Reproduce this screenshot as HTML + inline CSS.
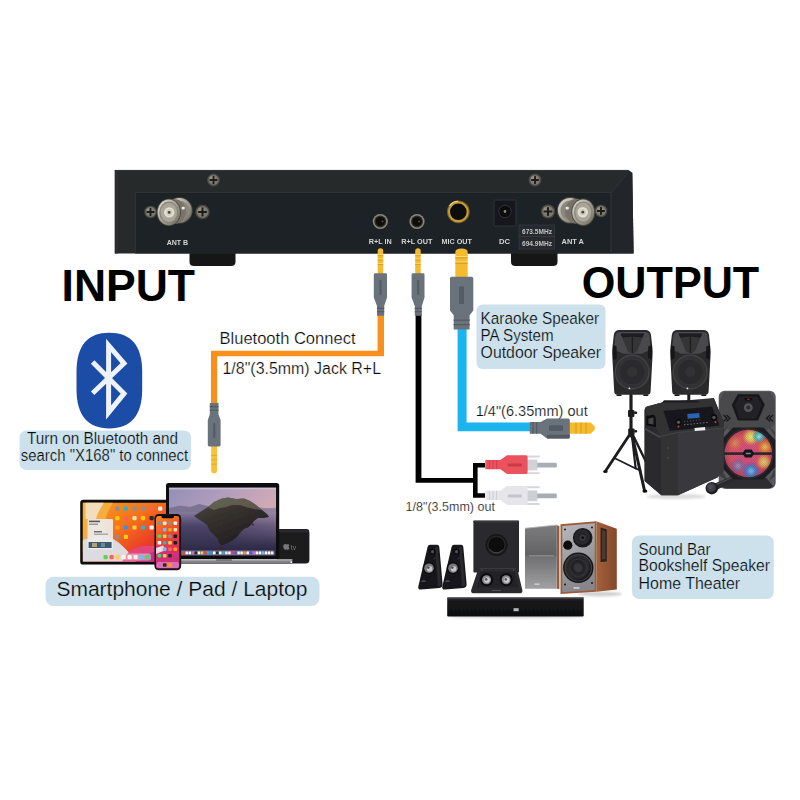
<!DOCTYPE html>
<html>
<head>
<meta charset="utf-8">
<title>Input / Output connection diagram</title>
<style>
html,body{margin:0;padding:0;background:#fff;}
body{width:800px;height:800px;overflow:hidden;}
svg{display:block;}
text{font-family:"Liberation Sans",sans-serif;}
</style>
</head>
<body>
<svg width="800" height="800" viewBox="0 0 800 800">
<defs>
  <linearGradient id="gNickel" x1="0" y1="0" x2="1" y2="1">
    <stop offset="0" stop-color="#e4e1d6"/><stop offset="0.5" stop-color="#a5a194"/><stop offset="1" stop-color="#6d695e"/>
  </linearGradient>
  <linearGradient id="gGoldV" x1="0" y1="0" x2="1" y2="0">
    <stop offset="0" stop-color="#f3b92d"/><stop offset="0.5" stop-color="#f7c544"/><stop offset="1" stop-color="#eaa91f"/>
  </linearGradient>
  <filter id="softR" x="-2%" y="-5%" width="104%" height="110%"><feGaussianBlur stdDeviation="0.45"/></filter>
  <filter id="softC" x="-2%" y="-2%" width="104%" height="104%"><feGaussianBlur stdDeviation="0.4"/></filter>
  <filter id="soft" x="-5%" y="-5%" width="110%" height="110%"><feGaussianBlur stdDeviation="0.5"/></filter>
  <filter id="soft1" x="-20%" y="-150%" width="140%" height="400%"><feGaussianBlur stdDeviation="1"/></filter>
</defs>
<rect width="800" height="800" fill="#ffffff"/>

<!-- ================= RECEIVER (rear panel) ================= -->
<g id="receiverAll" filter="url(#softR)">
<g id="receiver">
  <!-- feet -->
  <path d="M189.500 250 H235.500 V262 Q235.500 266 231 266 H194 Q189.500 266 189.500 262 Z" fill="#141619"/>
  <path d="M511 250 H557.500 V262 Q557.500 266 553 266 H515.500 Q511 266 511 262 Z" fill="#141619"/>
  <!-- body -->
  <path d="M114.800 170 H628.500 L632.300 172.800 L633.600 253.500 H114.800 Z" fill="#25292c"/>
  <path d="M114.800 170 H118 V253.500 H114.800 Z" fill="#2b2f33"/>
  <!-- recessed panel -->
  <path d="M135.500 192.500 H611 V253.500 H135.500 Z" fill="#1f2326"/>
  <path d="M135.500 253.500 V192.500 H611" fill="none" stroke="#2d3135" stroke-width="1"/>
  <!-- right side bevel -->
  <path d="M611 193 L628.500 172 L632.300 172.800 L633.600 253.500 H611 Z" fill="#22262a"/>
  <path d="M611 253.500 V193 L628.500 172" fill="none" stroke="#30343a" stroke-width="1"/>
  <path d="M114.800 170.400 H628.500" stroke="#34383c" stroke-width="0.800"/>
</g>

<!-- screws -->
<g id="screws">
  <g transform="translate(150.5 212)"><circle r="6.2" fill="#4f4c46"/><circle r="5" fill="#7d796f"/><circle cx="-1" cy="-1" r="3" fill="#928e82"/><path d="M-3.2 0H3.2M0 -3.2V3.2" stroke="#1c1c1a" stroke-width="1.9" stroke-linecap="round"/></g>
  <g transform="translate(202.5 212)"><circle r="7.2" fill="#4f4c46"/><circle r="5.8" fill="#7d796f"/><circle cx="-1" cy="-1" r="3.5" fill="#928e82"/><path d="M-3.6 0H3.6M0 -3.6V3.6" stroke="#1c1c1a" stroke-width="2.1" stroke-linecap="round"/></g>
  <g transform="translate(213.5 180)"><circle r="6.4" fill="#4c4a45"/><circle r="5" fill="#7b786e"/><circle cx="-1" cy="-1" r="3" fill="#96928a"/><path d="M-3.2 0H3.2M0 -3.2V3.2" stroke="#1c1c1a" stroke-width="1.9" stroke-linecap="round"/></g>
  <g transform="translate(535 180)"><circle r="6.4" fill="#4c4a45"/><circle r="5" fill="#7b786e"/><circle cx="-1" cy="-1" r="3" fill="#96928a"/><path d="M-3.2 0H3.2M0 -3.2V3.2" stroke="#1c1c1a" stroke-width="1.9" stroke-linecap="round"/></g>
  <g transform="translate(548 211.5)"><circle r="7" fill="#4f4c46"/><circle r="5.600" fill="#7d796f"/><circle cx="-1" cy="-1" r="3.400" fill="#928e82"/><path d="M-3.5 0H3.5M0 -3.5V3.5" stroke="#1c1c1a" stroke-width="2.1" stroke-linecap="round"/></g>
  <g transform="translate(601 211)"><circle r="6.2" fill="#4f4c46"/><circle r="5" fill="#7d796f"/><circle cx="-1" cy="-1" r="3" fill="#928e82"/><path d="M-3.2 0H3.2M0 -3.2V3.2" stroke="#1c1c1a" stroke-width="1.9" stroke-linecap="round"/></g>
</g>

<!-- BNC connector ANT B -->
<g id="antB">
  <circle cx="179.4" cy="210.4" r="13.200000000000001" fill="#4e4b44"/>
  <circle cx="179.4" cy="210.4" r="12.3" fill="url(#gNickel)"/>
  <circle cx="179.4" cy="210.4" r="9.700000000000001" fill="#8b877b"/>
  <ellipse cx="174.10000000000002" cy="211.4" rx="11.799999999999999" ry="12.4" fill="#77736a"/>
  <ellipse cx="168.8" cy="212.4" rx="12.1" ry="13.700000000000001" fill="#4a473f"/>
  <ellipse cx="168.8" cy="212.4" rx="11.2" ry="12.8" fill="url(#gNickel)"/>
  <ellipse cx="168.8" cy="212.4" rx="9.399999999999999" ry="10.8" fill="#88847a"/>
  <ellipse cx="168.8" cy="212.4" rx="8.2" ry="9.600000000000001" fill="#a9a598"/>
  <circle cx="169.2" cy="212.4" r="5.2" fill="#e3dfd3"/>
  <circle cx="169.2" cy="212.4" r="3.1" fill="#cfcabc"/>
  <circle cx="169.2" cy="212.4" r="1.400" fill="#4a463e"/>
  <rect x="181.6" y="206.8" width="3.2" height="2.8" rx="1" fill="#ece9e0"/>
</g>
<!-- BNC connector ANT A -->
<g id="antA">
  <circle cx="570.2" cy="210.3" r="13.200000000000001" fill="#4e4b44"/>
  <circle cx="570.2" cy="210.3" r="12.3" fill="url(#gNickel)"/>
  <circle cx="570.2" cy="210.3" r="9.700000000000001" fill="#8b877b"/>
  <ellipse cx="576.7" cy="211.25" rx="11.6" ry="12.4" fill="#77736a"/>
  <ellipse cx="583.2" cy="212.2" rx="11.9" ry="13.700000000000001" fill="#4a473f"/>
  <ellipse cx="583.2" cy="212.2" rx="11" ry="12.8" fill="url(#gNickel)"/>
  <ellipse cx="583.2" cy="212.2" rx="9.2" ry="10.8" fill="#88847a"/>
  <ellipse cx="583.2" cy="212.2" rx="8" ry="9.600000000000001" fill="#a9a598"/>
  <circle cx="582.8" cy="212.2" r="5.2" fill="#e3dfd3"/>
  <circle cx="582.8" cy="212.2" r="3.1" fill="#cfcabc"/>
  <circle cx="582.8" cy="212.2" r="1.400" fill="#4a463e"/>
  <rect x="565.6" y="206.70000000000002" width="3.2" height="2.8" rx="1" fill="#ece9e0"/>
</g>

<!-- jacks -->
<g id="jacks">
  <circle cx="380.3" cy="221.5" r="7.6" fill="#8a8678"/><circle cx="380.3" cy="221.5" r="5.9" fill="#2a2a28"/><circle cx="380.3" cy="221.5" r="4.6" fill="#0b0b0b"/><circle cx="382.5" cy="221.5" r="1" fill="#55524a"/>
  <circle cx="417" cy="221.5" r="7.6" fill="#8a8678"/><circle cx="417" cy="221.5" r="5.9" fill="#2a2a28"/><circle cx="417" cy="221.5" r="4.6" fill="#0b0b0b"/><circle cx="419" cy="221.5" r="1" fill="#55524a"/>
  <circle cx="458.3" cy="211.8" r="11.4" fill="#7a5a1e"/><circle cx="458.3" cy="211.8" r="10.4" fill="#c79a3c"/><circle cx="458.3" cy="211.8" r="8.3" fill="#0a0a0a"/>
  <path d="M449.5 206 A10.4 10.4 0 0 1 458.3 201.4" stroke="#f0d27a" stroke-width="1.3" fill="none"/>
  <!-- DC socket -->
  <rect x="494" y="200" width="22" height="26" rx="1.5" fill="#17191c" stroke="#30343a" stroke-width="1"/>
  <circle cx="505" cy="211.5" r="6.2" fill="#070708"/><circle cx="505" cy="211.5" r="6.2" fill="none" stroke="#3a3d42" stroke-width="0.8"/><circle cx="505" cy="211.5" r="1.4" fill="#8b8b88"/>
  <!-- frequency stickers -->
  <rect x="519" y="225" width="35.5" height="11.5" fill="#26292e" stroke="#3a3e44" stroke-width="0.7"/>
  <rect x="519" y="236.5" width="35.5" height="12.5" fill="#26292e" stroke="#3a3e44" stroke-width="0.7"/>
</g>
<g id="paneltext" font-weight="bold" fill="#d4d4d4" font-size="7.6">
  <text x="166.7" y="244.7" textLength="21.5" lengthAdjust="spacingAndGlyphs">ANT B</text>
  <text x="368.7" y="243.8" textLength="23" lengthAdjust="spacingAndGlyphs">R+L IN</text>
  <text x="401.2" y="243.8" textLength="31.2" lengthAdjust="spacingAndGlyphs">R+L OUT</text>
  <text x="441.5" y="243.8" textLength="30.4" lengthAdjust="spacingAndGlyphs">MIC OUT</text>
  <text x="499" y="244.3" textLength="11" lengthAdjust="spacingAndGlyphs">DC</text>
  <text x="561.5" y="244.3" textLength="22.5" lengthAdjust="spacingAndGlyphs">ANT A</text>
  <text x="522" y="233.8" font-size="6.6" textLength="30" lengthAdjust="spacingAndGlyphs" fill="#c2c2c2">673.5MHz</text>
  <text x="522" y="246" font-size="6.6" textLength="30" lengthAdjust="spacingAndGlyphs" fill="#c2c2c2">694.9MHz</text>
</g>
</g>

<!-- ================= HEADINGS ================= -->
<text x="61.6" y="301" font-size="45" font-weight="bold" fill="#000" textLength="133.4" lengthAdjust="spacingAndGlyphs">INPUT</text>
<text x="581.8" y="298.4" font-size="43.6" font-weight="bold" fill="#000" textLength="177.4" lengthAdjust="spacingAndGlyphs">OUTPUT</text>

<!-- ================= CABLES ================= -->
<g id="cablesAll" filter="url(#softC)">
<g id="cables">
  <!-- orange aux cable -->
  <path d="M377.6 314 H384 V356.2 H217.2 V405 H211 V350.8 H377.6 Z" fill="#f7901e"/>
  <!-- black cable + splitter -->
  <path d="M415.6 314 H421.4 V478 H473 V463 H485 V467.4 H477.6 V493.2 H485 V497.8 H473 V482.8 H415.6 Z" fill="#060606"/>
  <!-- blue cable -->
  <path d="M457.6 328 H466.6 V422.6 H531 V431.2 H457.6 Z" fill="#1cb4ee"/>
</g>

<!-- 3.5mm plug into R+L IN -->
<g id="plug1">
  <path d="M377.7 251 Q377.7 248.2 380.45 248.2 Q383.2 248.2 383.2 251 V274 H377.7 Z" fill="#f4bb2e"/>
  <path d="M377.7 254.6H383.2M377.7 259H383.2M377.7 263.4H383.2" stroke="#fbe08a" stroke-width="0.9"/>
  <path d="M377.7 255.6H383.2M377.7 260H383.2M377.7 264.4H383.2" stroke="#d9961a" stroke-width="0.8"/>
  <path d="M373.8 274.6 Q373.8 273.3 375.1 273.3 H385.7 Q387 273.3 387 274.6 V297.5 L384.2 306 V315.8 H377 V306 L373.8 297.5 Z" fill="#6a737b"/>
  <path d="M376.9 308.4H384.3M376.9 311.8H384.3" stroke="#525a62" stroke-width="1.1"/>
  <rect x="379.4" y="280" width="2.2" height="15" rx="1" fill="#535b63"/>
</g>
<!-- 3.5mm plug into R+L OUT -->
<g id="plug2">
  <path d="M415.2 251 Q415.2 248.2 417.95 248.2 Q420.7 248.2 420.7 251 V274 H415.2 Z" fill="#f4bb2e"/>
  <path d="M415.2 254.6H420.7M415.2 259H420.7M415.2 263.4H420.7" stroke="#fbe08a" stroke-width="0.9"/>
  <path d="M415.2 255.6H420.7M415.2 260H420.7M415.2 264.4H420.7" stroke="#d9961a" stroke-width="0.8"/>
  <path d="M411.6 274.6 Q411.6 273.3 412.9 273.3 H423.2 Q424.5 273.3 424.5 274.6 V297.5 L421.8 306 V315.8 H414.8 V306 L411.6 297.5 Z" fill="#6a737b"/>
  <path d="M414.7 308.4H421.9M414.7 311.8H421.9" stroke="#525a62" stroke-width="1.1"/>
  <rect x="417" y="280" width="2.2" height="15" rx="1" fill="#535b63"/>
</g>
<!-- 6.35mm plug into MIC OUT -->
<g id="plug3">
  <path d="M455.3 252 Q455.3 248.4 461.5 248.4 Q467.7 248.4 467.7 252 V278 H455.3 Z" fill="#f4bb2e"/>
  <path d="M455.3 256.6H467.7M455.3 262H467.7" stroke="#fbe08a" stroke-width="1"/>
  <path d="M455.3 257.8H467.7M455.3 263.2H467.7" stroke="#d9961a" stroke-width="1"/>
  <path d="M450 278.4 Q450 276.8 451.6 276.8 H471.7 Q473.3 276.8 473.3 278.4 V310.5 L469.6 315.2 V329.4 H453.7 V315.2 L450 310.5 Z" fill="#6a737b"/>
  <path d="M453.6 320.2H469.7M453.6 324.6H469.7" stroke="#525a62" stroke-width="1.3"/>
  <rect x="459" y="286.5" width="5" height="17.5" rx="0.8" fill="#535b63"/>
</g>

<!-- 3.5mm plug (phone end of orange cable) -->
<g id="plug4">
  <path d="M211.2 446 H217.1 V470.4 Q217.1 473.2 214.15 473.2 Q211.2 473.2 211.2 470.4 Z" fill="#f6c23c"/>
  <path d="M211.2 455.4H217.1M211.2 459.8H217.1M211.2 464.2H217.1" stroke="#e3a526" stroke-width="0.9"/>
  <path d="M209.8 403 H218.5 V414.4 L220.6 420 V445 Q220.6 446.4 219.2 446.4 H209.2 Q207.8 446.4 207.8 445 V420 L209.8 414.4 Z" fill="#6a737b"/>
  <path d="M209.8 406.6H218.5M209.8 410.2H218.5" stroke="#525a62" stroke-width="1.1"/>
  <rect x="213.1" y="423" width="2.2" height="15" rx="1" fill="#535b63"/>
</g>
<!-- 6.35mm plug (speaker end of blue cable) -->
<g id="plug5">
  <path d="M569 422.6 H590.5 L594.8 426.6 V429.8 L590.5 433.8 H569 Z" fill="#f4bb2e"/>
  <path d="M576 422.6V433.8M581 422.6V433.8M586 422.6V433.8" stroke="#d9961a" stroke-width="0.9"/>
  <path d="M529.8 422 H540.6 L547 418.4 H568.3 Q569.8 418.4 569.8 419.9 V436.9 Q569.8 438.4 568.3 438.4 H547 L540.6 433.8 H529.8 Z" fill="#6a737b"/>
  <path d="M547 434.8 H569.8 V436.9 Q569.8 438.4 568.3 438.4 H547 Z" fill="#525a62"/>
  <path d="M533 422V433.8M536.6 422V433.8" stroke="#525a62" stroke-width="1.1"/>
  <rect x="549" y="425.3" width="14" height="5.8" rx="0.8" fill="#535b63"/>
</g>
<!-- RCA red -->
<g id="rcaRed">
  <path d="M537 462.8 H555.6 Q556.8 462.8 556.8 464 V466.3 Q556.8 467.5 555.6 467.5 H537 Z" fill="#a9adb6"/>
  <path d="M527 455.4 H539.7 V457.4 H527 Z M527 472.2 H539.7 V474.1 H527 Z" fill="#d6d7dc"/>
  <rect x="527" y="459.6" width="10.3" height="10.8" fill="#d2d3d8"/>
  <path d="M485.3 460 H500.3 L507 455.3 H526 Q527.6 455.3 527.6 456.9 V472.5 Q527.6 474.1 526 474.1 H507 L500.3 469.2 H485.3 Z" fill="#ea525d"/>
  <path d="M489.4 460V469.2M493 460V469.2M496.6 460V469.2" stroke="#d3414d" stroke-width="1"/>
  <rect x="507.8" y="463.6" width="14.2" height="3" rx="0.6" fill="#c93a47"/>
</g>
<!-- RCA white -->
<g id="rcaWhite" transform="translate(0 30.8)">
  <path d="M537 462.8 H555.6 Q556.8 462.8 556.8 464 V466.3 Q556.8 467.5 555.6 467.5 H537 Z" fill="#a9adb6"/>
  <path d="M527 455.4 H539.7 V457.4 H527 Z M527 472.2 H539.7 V474.1 H527 Z" fill="#d6d7dc"/>
  <rect x="527" y="459.6" width="10.3" height="10.8" fill="#cfd0d6"/>
  <path d="M485.3 460 H500.3 L507 455.3 H526 Q527.6 455.3 527.6 456.9 V472.5 Q527.6 474.1 526 474.1 H507 L500.3 469.2 H485.3 Z" fill="#e6e6ea"/>
  <path d="M489.4 460V469.2M493 460V469.2M496.6 460V469.2" stroke="#cdced4" stroke-width="1"/>
  <rect x="507.8" y="463.6" width="14.2" height="3" rx="0.6" fill="#c4c5cc"/>
</g>
</g>

<!-- ================= SMARTPHONE / PAD / LAPTOP ================= -->
<defs>
  <linearGradient id="gSky" x1="0" y1="0" x2="1" y2="0.25">
    <stop offset="0" stop-color="#948fb6"/><stop offset="0.5" stop-color="#b09cbc"/><stop offset="1" stop-color="#cfa9b6"/>
  </linearGradient>
  <linearGradient id="gSea" x1="0" y1="0" x2="0" y2="1">
    <stop offset="0" stop-color="#857a9c"/><stop offset="0.3" stop-color="#4c4569"/><stop offset="1" stop-color="#27243f"/>
  </linearGradient>
  <linearGradient id="gIsle" x1="0" y1="0" x2="0.6" y2="1">
    <stop offset="0" stop-color="#4e4c42"/><stop offset="0.45" stop-color="#35312d"/><stop offset="1" stop-color="#221e22"/>
  </linearGradient>
  <linearGradient id="gPad" x1="0" y1="0" x2="1" y2="1">
    <stop offset="0" stop-color="#f9a425"/><stop offset="0.45" stop-color="#f46f1b"/><stop offset="0.75" stop-color="#e93a28"/><stop offset="1" stop-color="#e1322c"/>
  </linearGradient>
  <linearGradient id="gPhone" x1="0" y1="0" x2="0.3" y2="1">
    <stop offset="0" stop-color="#f58a22"/><stop offset="0.45" stop-color="#ee4a26"/><stop offset="0.75" stop-color="#e0305a"/><stop offset="1" stop-color="#b8288a"/>
  </linearGradient>
  <linearGradient id="gBase" x1="0" y1="0" x2="0" y2="1">
    <stop offset="0" stop-color="#d4d4d8"/><stop offset="0.35" stop-color="#8d8d92"/><stop offset="1" stop-color="#6a6a70"/>
  </linearGradient>
  <linearGradient id="gSeaR" x1="0" y1="0" x2="1" y2="0"><stop offset="0.35" stop-color="#a58aa6" stop-opacity="0"/><stop offset="1" stop-color="#a58aa6" stop-opacity="0.6"/></linearGradient>
  <linearGradient id="gSeaR2" x1="0" y1="0" x2="0" y2="1"><stop offset="0" stop-color="#fff" stop-opacity="1"/><stop offset="1" stop-color="#fff" stop-opacity="0"/></linearGradient>
  <mask id="mSeaR"><rect x="169" y="512" width="107.2" height="34" fill="url(#gSeaR2)"/></mask>
  <clipPath id="cpMac"><rect x="169" y="487.4" width="107.2" height="68.8"/></clipPath>
  <clipPath id="cpPad"><rect x="82.6" y="502.6" width="84" height="59.2"/></clipPath>
  <clipPath id="cpPhone"><rect x="156" y="516" width="23.5" height="52.6" rx="2.6"/></clipPath>
</defs>
<g id="devices" filter="url(#soft)">
  <!-- Apple TV -->
  <rect x="277" y="529" width="32.4" height="34.4" rx="3.4" fill="#1c1c1e"/>
  <rect x="277" y="529.6" width="32" height="3" rx="1.5" fill="#2c2c2f"/>
  <path d="M290.8 545.2c-.9 0-1.5.6-2.1.6s-1.200-.6-2.100-.5c-1.100.1-2 .8-2.400 1.900-.6 1.700.2 3.800 1.200 4.800.5.500 1 .9 1.600.9s.9-.4 1.700-.4 1.100.4 1.700.4 1.100-.5 1.500-1c.5-.7.7-1.300.7-1.400-1.400-.600-1.600-2.600-.2-3.400-.5-.7-1.200-1.900-1.600-1.900z" fill="#77777c" transform="translate(73 140.600) scale(0.74)"/>
  <text x="290.800" y="549.600" font-size="6.800" fill="#77777c">tv</text>

  <!-- iPad -->
  <rect x="80.2" y="499.8" width="89" height="64.8" rx="3.2" fill="#0d0d0f"/>
  <g clip-path="url(#cpPad)">
    <rect x="82.6" y="502.6" width="84" height="59.2" fill="url(#gPad)"/>
    <path d="M82.600 502.600 H113 C107 512 103 522 106 534 L118 550 L82.600 552 Z" fill="#f6b544" opacity="0.800"/>
    <path d="M85.500 502.600 H104 C100 509 97 514 96 519 H85.500 Z" fill="#f1e6d4" opacity="0.850"/>
    <path d="M82.6 540 L104 534 C118 540 128 550 136 561.8 H82.6 Z" fill="#dcdce0"/>
    <path d="M122 561.8 C128 548 142 542 160 548 L166.6 561.8 Z" fill="#e2447e"/>
    <path d="M140 561.8 C146 552 156 550 166.6 553 V561.8 Z" fill="#c22f92"/>
    <rect x="87.5" y="519" width="25.5" height="30.4" rx="1.4" fill="#ecebea" opacity="0.93"/>
    <rect x="89" y="520.6" width="11" height="1.6" fill="#55555a"/><rect x="89" y="523.6" width="9" height="1.2" fill="#85858a"/>
    <rect x="94" y="531" width="8" height="1.4" fill="#6a6a70"/><rect x="94" y="533.6" width="14" height="1.2" fill="#9a9aa0"/>
    <rect x="88.6" y="542" width="23" height="6" fill="#3d5a73"/><rect x="92" y="543" width="5" height="4" fill="#b8a070"/><rect x="101" y="543" width="4" height="4" fill="#708890"/>
    <rect x="101" y="553.4" width="50" height="7" rx="2" fill="#f3d2cf" opacity="0.55"/>
    <rect x="115.3" y="506.6" width="4.2" height="4.2" rx="1.1" fill="#8e8e93"/><rect x="123.8" y="506.6" width="4.2" height="4.2" rx="1.1" fill="#30b0c7"/><rect x="132.4" y="506.6" width="4.2" height="4.2" rx="1.1" fill="#8e8e93"/><rect x="140.9" y="506.6" width="4.2" height="4.2" rx="1.1" fill="#8e8e93"/><rect x="149.5" y="506.6" width="4.2" height="4.2" rx="1.1" fill="#ff5e57"/><rect x="158.1" y="506.6" width="4.2" height="4.2" rx="1.1" fill="#f0f0f0"/><rect x="115.3" y="516.0" width="4.2" height="4.2" rx="1.1" fill="#ffcc00"/><rect x="123.8" y="516.0" width="4.2" height="4.2" rx="1.1" fill="#ff5e57"/><rect x="132.4" y="516.0" width="4.2" height="4.2" rx="1.1" fill="#ffe9a8"/><rect x="140.9" y="516.0" width="4.2" height="4.2" rx="1.1" fill="#ffcc00"/><rect x="149.5" y="516.0" width="4.2" height="4.2" rx="1.1" fill="#2c2c2e"/><rect x="158.1" y="516.0" width="4.2" height="4.2" rx="1.1" fill="#8e8e93"/><rect x="115.3" y="525.4" width="4.2" height="4.2" rx="1.1" fill="#ff9f0a"/><rect x="123.8" y="525.4" width="4.2" height="4.2" rx="1.1" fill="#3a8df0"/><rect x="132.4" y="525.4" width="4.2" height="4.2" rx="1.1" fill="#f7d04a"/><rect x="140.9" y="525.4" width="4.2" height="4.2" rx="1.1" fill="#30b0c7"/><rect x="149.5" y="525.4" width="4.2" height="4.2" rx="1.1" fill="#f5f5f0"/><rect x="158.1" y="525.4" width="4.2" height="4.2" rx="1.1" fill="#c86dd7"/><rect x="115.3" y="534.8" width="4.2" height="4.2" rx="1.1" fill="#8e8e93"/><rect x="123.8" y="534.8" width="4.2" height="4.2" rx="1.1" fill="#ffcc00"/>
    <rect x="103.5" y="555" width="4.2" height="4.2" rx="1" fill="#4cd964"/><rect x="109.5" y="555" width="4.2" height="4.2" rx="1" fill="#ff5e57"/><rect x="115.5" y="555" width="4.2" height="4.2" rx="1" fill="#f7d04a"/><rect x="121.5" y="555" width="4.2" height="4.2" rx="1" fill="#f5f5f0"/><rect x="127.5" y="555" width="4.2" height="4.2" rx="1" fill="#f5f5f0"/><rect x="133.5" y="555" width="4.2" height="4.2" rx="1" fill="#f0f0f0"/><rect x="139.5" y="555" width="4.2" height="4.2" rx="1" fill="#5ac8fa"/><rect x="145.5" y="555" width="4.2" height="4.2" rx="1" fill="#4cd964"/>
  </g>

  <!-- MacBook -->
  <rect x="166" y="483" width="113.2" height="76.6" rx="2.6" fill="#0c0c0e"/>
  <g clip-path="url(#cpMac)">
    <rect x="169" y="487.4" width="107.2" height="30" fill="url(#gSky)"/>
    <path d="M169 508 L180 505.5 L190 507 L199 504 L210 506.5 L222 505 L235 507 L276.2 509 V517 H169 Z" fill="#7d7393"/>
    <rect x="169" y="512" width="107.2" height="44.2" fill="url(#gSea)"/>
    <rect x="169" y="512" width="107.2" height="34" fill="url(#gSeaR)" mask="url(#mSeaR)"/>
    <path d="M236 509 L252 506 L266 508.5 L276.2 507.5 V514 L236 513 Z" fill="#94839f" opacity="0.8"/>
    <path d="M194.0 516.0 L200.0 512.0 L208.0 507.0 L214.0 502.0 L222.0 498.6 L228.0 497.4 L236.0 499.0 L244.0 498.6 L250.0 501.0 L256.0 505.0 L262.0 510.0 L267.0 514.0 L269.0 517.0 L264.0 518.0 L258.0 518.0 L254.0 521.0 L251.0 525.0 L248.0 527.4 L244.0 529.0 L240.0 533.0 L237.0 537.0 L232.0 541.0 L226.0 544.0 L221.0 545.4 L219.0 543.0 L218.0 539.0 L214.0 535.0 L210.0 531.0 L207.0 525.0 L203.0 522.0 L198.0 519.0 Z" fill="url(#gIsle)"/>
    <path d="M208.0 507.0 L214.0 502.0 L222.0 498.6 L228.0 497.4 L236.0 499.0 L244.0 498.6 L250.0 501.0 L256.0 505.0 L262.0 510.0 L254.0 509.0 L246.0 507.0 L240.0 505.0 L232.0 505.0 L226.0 507.0 L220.0 508.0 L214.0 510.0 Z" fill="#727060" opacity="0.650"/>
    <path d="M221 545.4 L224 547.6 L222.600 550 L219.800 548 Z M252 523 L254.400 524.200 L252.600 526.200 Z" fill="#322c2e"/>
    <rect x="169" y="487.4" width="107.2" height="2" fill="#cfc6d6" opacity="0.85"/>
    <rect x="180.5" y="550.6" width="94" height="4.6" rx="1.2" fill="#c8c2d2" opacity="0.5"/>
    <rect x="182.50" y="551.6" width="2.4" height="2.6" rx="0.5" fill="#ff3b30"/><rect x="185.55" y="551.6" width="2.4" height="2.6" rx="0.5" fill="#fefefe"/><rect x="188.60" y="551.6" width="2.4" height="2.6" rx="0.5" fill="#fdfdfd"/><rect x="191.65" y="551.6" width="2.4" height="2.6" rx="0.5" fill="#c86dd7"/><rect x="194.70" y="551.6" width="2.4" height="2.6" rx="0.5" fill="#222222"/><rect x="197.75" y="551.6" width="2.4" height="2.6" rx="0.5" fill="#ffffff"/><rect x="200.80" y="551.6" width="2.4" height="2.6" rx="0.5" fill="#f7d04a"/><rect x="203.85" y="551.6" width="2.4" height="2.6" rx="0.5" fill="#ff3b30"/><rect x="206.90" y="551.6" width="2.4" height="2.6" rx="0.5" fill="#34aadc"/><rect x="209.95" y="551.6" width="2.4" height="2.6" rx="0.5" fill="#3a8df0"/><rect x="213.00" y="551.6" width="2.4" height="2.6" rx="0.5" fill="#fdfdfd"/><rect x="216.05" y="551.6" width="2.4" height="2.6" rx="0.5" fill="#2c2c2e"/><rect x="219.10" y="551.6" width="2.4" height="2.6" rx="0.5" fill="#fefefe"/><rect x="222.15" y="551.6" width="2.4" height="2.6" rx="0.5" fill="#34aadc"/><rect x="225.20" y="551.6" width="2.4" height="2.6" rx="0.5" fill="#f5f5f0"/><rect x="228.25" y="551.6" width="2.4" height="2.6" rx="0.5" fill="#ffffff"/><rect x="231.30" y="551.6" width="2.4" height="2.6" rx="0.5" fill="#ff2d55"/><rect x="234.35" y="551.6" width="2.4" height="2.6" rx="0.5" fill="#5856d6"/><rect x="237.40" y="551.6" width="2.4" height="2.6" rx="0.5" fill="#fdfdfd"/><rect x="240.45" y="551.6" width="2.4" height="2.6" rx="0.5" fill="#fdfdfd"/><rect x="243.50" y="551.6" width="2.4" height="2.6" rx="0.5" fill="#ff9f0a"/><rect x="246.55" y="551.6" width="2.4" height="2.6" rx="0.5" fill="#fefefe"/><rect x="249.60" y="551.6" width="2.4" height="2.6" rx="0.5" fill="#5856d6"/><rect x="252.65" y="551.6" width="2.4" height="2.6" rx="0.5" fill="#c86dd7"/><rect x="255.70" y="551.6" width="2.4" height="2.6" rx="0.5" fill="#ffffff"/><rect x="258.75" y="551.6" width="2.4" height="2.6" rx="0.5" fill="#ffffff"/><rect x="261.80" y="551.6" width="2.4" height="2.6" rx="0.5" fill="#5ac8fa"/><rect x="264.85" y="551.6" width="2.4" height="2.6" rx="0.5" fill="#fefefe"/><rect x="267.90" y="551.6" width="2.4" height="2.6" rx="0.5" fill="#ffffff"/><rect x="270.95" y="551.6" width="2.4" height="2.6" rx="0.5" fill="#f5f5f0"/>
  </g>
  <path d="M174 559.2 H292.4 V561.4 Q292.4 564 289 564 H177 Q174 564 174 561.4 Z" fill="url(#gBase)"/>
  <rect x="216" y="559.2" width="16" height="1.5" rx="0.7" fill="#6c6c72"/>
  <circle cx="291.3" cy="562.2" r="0.9" fill="#f2f2f2"/>

  <!-- iPhone -->
  <rect x="154.4" y="514" width="26.8" height="56.2" rx="4.2" fill="#2a2426"/>
  <rect x="154.9" y="514.5" width="25.8" height="55.2" rx="3.8" fill="#0c0c0e"/>
  <g clip-path="url(#cpPhone)">
    <rect x="156" y="516" width="23.5" height="52.6" fill="url(#gPhone)"/>
    <path d="M156 546 C162 544 168 548 171 554 L179.500 551 V568.6 H156 Z" fill="#d42f78" opacity="0.9"/>
    <path d="M156 548 L163 545.5 L166 550 L156 554 Z" fill="#f0e6ea" opacity="0.9"/>
    <rect x="156.6" y="562" width="22.3" height="6" rx="2" fill="#f0c8d8" opacity="0.45"/>
    <rect x="157.6" y="521.4" width="3.6" height="3.6" rx="0.9" fill="#8e8e93"/><rect x="162.9" y="521.4" width="3.6" height="3.6" rx="0.9" fill="#e8e8e8"/><rect x="168.2" y="521.4" width="3.6" height="3.6" rx="0.9" fill="#8e8e93"/><rect x="173.5" y="521.4" width="3.6" height="3.6" rx="0.9" fill="#f0f0f0"/><rect x="157.6" y="527.9" width="3.6" height="3.6" rx="0.9" fill="#ff5e57"/><rect x="162.9" y="527.9" width="3.6" height="3.6" rx="0.9" fill="#5ac8fa"/><rect x="168.2" y="527.9" width="3.6" height="3.6" rx="0.9" fill="#ff9f0a"/><rect x="173.5" y="527.9" width="3.6" height="3.6" rx="0.9" fill="#ffe9a8"/><rect x="157.6" y="534.4" width="3.6" height="3.6" rx="0.9" fill="#4cd964"/><rect x="162.9" y="534.4" width="3.6" height="3.6" rx="0.9" fill="#f7d04a"/><rect x="168.2" y="534.4" width="3.6" height="3.6" rx="0.9" fill="#8e8e93"/><rect x="173.5" y="534.4" width="3.6" height="3.6" rx="0.9" fill="#1e1e20"/><rect x="157.6" y="540.9" width="3.6" height="3.6" rx="0.9" fill="#fefefe"/><rect x="162.9" y="540.9" width="3.6" height="3.6" rx="0.9" fill="#30b0c7"/><rect x="168.2" y="540.9" width="3.6" height="3.6" rx="0.9" fill="#f7d04a"/><rect x="173.5" y="540.9" width="3.6" height="3.6" rx="0.9" fill="#1e1e20"/><rect x="157.6" y="547.4" width="3.6" height="3.6" rx="0.9" fill="#e8e8e8"/><rect x="162.9" y="547.4" width="3.6" height="3.6" rx="0.9" fill="#5ac8fa"/><rect x="168.2" y="547.4" width="3.6" height="3.6" rx="0.9" fill="#ff5e57"/><rect x="173.5" y="547.4" width="3.6" height="3.6" rx="0.9" fill="#ff9f0a"/><rect x="157.6" y="553.9" width="3.6" height="3.6" rx="0.9" fill="#4cd964"/><rect x="162.9" y="553.9" width="3.6" height="3.6" rx="0.9" fill="#f7d04a"/><rect x="168.2" y="553.9" width="3.6" height="3.6" rx="0.9" fill="#2c2c2e"/>
    <rect x="157.6" y="563.2" width="3.6" height="3.6" rx="0.9" fill="#c86dd7"/><rect x="162.9" y="563.2" width="3.6" height="3.6" rx="0.9" fill="#2c2c2e"/><rect x="168.2" y="563.2" width="3.6" height="3.6" rx="0.9" fill="#ff9f0a"/><rect x="173.5" y="563.2" width="3.6" height="3.6" rx="0.9" fill="#c86dd7"/>
  </g>
  <path d="M161.5 515.4 H174 V516.6 Q174 518.2 172.4 518.2 H163.100 Q161.500 518.200 161.500 516.600 Z" fill="#0c0c0e"/>
</g>

<!-- ================= PA / KARAOKE SPEAKERS ================= -->
<defs>
  <radialGradient id="gLed" cx="0.5" cy="0.5" r="0.5">
    <stop offset="0" stop-color="#e2508e"/><stop offset="0.7" stop-color="#ee5a72"/><stop offset="1" stop-color="#c8425e"/>
  </radialGradient>
  <radialGradient id="gSpotY" cx="0.5" cy="0.5" r="0.5"><stop offset="0" stop-color="#fff7a0"/><stop offset="0.5" stop-color="#f3d650" stop-opacity="0.9"/><stop offset="1" stop-color="#f0a040" stop-opacity="0"/></radialGradient>
  <radialGradient id="gSpotB" cx="0.5" cy="0.5" r="0.5"><stop offset="0" stop-color="#8fd0ff"/><stop offset="0.5" stop-color="#3a8be0" stop-opacity="0.9"/><stop offset="1" stop-color="#5a50c0" stop-opacity="0"/></radialGradient>
  <radialGradient id="gSpotC" cx="0.5" cy="0.5" r="0.5"><stop offset="0" stop-color="#b8ffe8"/><stop offset="0.5" stop-color="#40c8d0" stop-opacity="0.9"/><stop offset="1" stop-color="#40a0c0" stop-opacity="0"/></radialGradient>
  <radialGradient id="gSpotO" cx="0.5" cy="0.5" r="0.5"><stop offset="0" stop-color="#ffd070"/><stop offset="0.5" stop-color="#f08a3a" stop-opacity="0.9"/><stop offset="1" stop-color="#e86040" stop-opacity="0"/></radialGradient>
  <pattern id="pMesh" width="1.6" height="1.6" patternUnits="userSpaceOnUse" patternTransform="rotate(45)"><rect width="1.6" height="1.6" fill="none"/><path d="M0 0H1.6M0 0V1.6" stroke="#2a2228" stroke-width="0.45" opacity="0.55"/></pattern>
  <linearGradient id="gRockF" x1="0" y1="0" x2="1" y2="1"><stop offset="0" stop-color="#3c3c3f"/><stop offset="1" stop-color="#2b2b2e"/></linearGradient>
  <clipPath id="cpLed"><circle cx="748.3" cy="453.5" r="24.6"/></clipPath>
</defs>
<g id="paSystem" filter="url(#soft)">
  <!-- tripod stand -->
  <g stroke="#1b1b1d" stroke-linecap="round" fill="none">
    <path d="M631 395 V436" stroke-width="3.2"/>
    <path d="M631.4 432 L605.2 471.6" stroke-width="2.8"/>
    <path d="M631.4 432 L644.6 491" stroke-width="3"/>
    <path d="M631.4 432 L650 470" stroke-width="2.4"/>
    <path d="M632 436 L635.6 468" stroke-width="2.2"/>
    <path d="M614.8 458.2 L635.6 468.4" stroke-width="1.7"/>
    <path d="M635.6 468.4 L640.4 470.4" stroke-width="1.7"/>
  </g>
  <rect x="628" y="410" width="6.4" height="7" rx="1" fill="#1b1b1d"/><rect x="634" y="411.5" width="3.2" height="2.6" rx="1" fill="#1b1b1d"/>
  <rect x="628.2" y="428.5" width="6.4" height="6.5" rx="1" fill="#1b1b1d"/><rect x="634.2" y="430" width="3" height="2.4" rx="1" fill="#1b1b1d"/>
  <rect x="603.2" y="470.4" width="4.4" height="2.4" rx="1" fill="#111"/><rect x="642.6" y="489.800" width="4.6" height="2.6" rx="1" fill="#111"/>
  <!-- second pole -->
  <path d="M688.800 394 V402" stroke="#1b1b1d" stroke-width="3"/>

  <g>
    <path d="M619.5 330 H645.3 Q650.2 330 651.0 335 L652.5 349 Q652.8 352 652.5 356 L650.6 391.500 Q650.4 394.800 647.2 394.800 H617.6 Q614.4 394.800 614.2 391.500 L612.3 356 Q612.0 352 612.3 349 L613.8 335 Q614.6 330 619.5 330 Z" fill="#29292b"/>
    <path d="M619.8 332 H645.0 Q648.8 332 649.4 335.600 L650.8 349.500 L641.5 353.800 H623.3 L614.0 349.500 L615.4 335.600 Q616.0 332 619.8 332 Z" fill="#4a4a4e"/>
    <path d="M620.5 333.400 H644.3 L637.0 351.500 Q632.4 354.500 627.8 351.500 Z" fill="#343437"/>
    <path d="M620.5 333.400 H644.3 L642.6 337.500 Q632.4 335.800 622.2 337.500 Z" fill="#1e1e20"/>
    <path d="M632.4 336.500 V353" stroke="#1c1c1e" stroke-width="1.200"/>
    <path d="M613.0 345 L616.6 346.500 V358 L613.0 360 Z" fill="#161618"/>
    <path d="M651.8 345 L648.2 346.500 V358 L651.8 360 Z" fill="#161618"/>
    <circle cx="632.2" cy="372" r="18.200" fill="#303033"/>
    <circle cx="632.2" cy="372" r="16.800" fill="none" stroke="#414145" stroke-width="1.400"/>
    <circle cx="632.2" cy="372" r="12" fill="#2b2b2e"/>
    <circle cx="632.2" cy="372" r="5" fill="#323236"/>
    <circle cx="629.4" cy="388.400" r="0.900" fill="#e8e8e8"/>
    <rect x="616.5" y="394.400" width="5" height="1.600" rx="0.600" fill="#19191b"/>
    <rect x="643.3" y="394.400" width="5" height="1.600" rx="0.600" fill="#19191b"/>
  </g>
  <g>
    <path d="M677.5 330 H703.3 Q708.2 330 709.0 335 L710.5 349 Q710.8 352 710.5 356 L708.6 391.500 Q708.4 394.800 705.2 394.800 H675.6 Q672.4 394.800 672.2 391.500 L670.3 356 Q670.0 352 670.3 349 L671.8 335 Q672.6 330 677.5 330 Z" fill="#29292b"/>
    <path d="M677.8 332 H703.0 Q706.8 332 707.4 335.600 L708.8 349.500 L699.5 353.800 H681.3 L672.0 349.500 L673.4 335.600 Q674.0 332 677.8 332 Z" fill="#4a4a4e"/>
    <path d="M678.5 333.400 H702.3 L695.0 351.500 Q690.4 354.500 685.8 351.500 Z" fill="#343437"/>
    <path d="M678.5 333.400 H702.3 L700.6 337.500 Q690.4 335.800 680.2 337.500 Z" fill="#1e1e20"/>
    <path d="M690.4 336.500 V353" stroke="#1c1c1e" stroke-width="1.200"/>
    <path d="M671.0 345 L674.6 346.500 V358 L671.0 360 Z" fill="#161618"/>
    <path d="M709.8 345 L706.2 346.500 V358 L709.8 360 Z" fill="#161618"/>
    <circle cx="690.2" cy="372" r="18.200" fill="#303033"/>
    <circle cx="690.2" cy="372" r="16.800" fill="none" stroke="#414145" stroke-width="1.400"/>
    <circle cx="690.2" cy="372" r="12" fill="#2b2b2e"/>
    <circle cx="690.2" cy="372" r="5" fill="#323236"/>
    <circle cx="687.4" cy="388.400" r="0.900" fill="#e8e8e8"/>
    <rect x="674.5" y="394.400" width="5" height="1.600" rx="0.600" fill="#19191b"/>
    <rect x="701.3" y="394.400" width="5" height="1.600" rx="0.600" fill="#19191b"/>
  </g>

  <!-- LED party speaker -->
  <rect x="718.700" y="390.800" width="57" height="98" rx="6" fill="#58585c"/>
  <path d="M724 392 H770.5 L775 400 V424 L766 431 H730.500 L719.500 424 V400 Z" fill="#48484c"/>
  <path d="M719.5 432 L728 426 L722 436 V470 L728 481 L719.5 476 Z" fill="#3e3e42"/>
  <path d="M775 432 L768.5 426 L774.5 436 V470 L768.5 481 L775 476 Z" fill="#3e3e42"/>
  <path d="M722 486 L730 478 H766.5 L773 486 Q771 488.6 768 488.6 H726.500 Q723.500 488.600 722 486 Z" fill="#2f2f32"/>
  <path d="M731.800 404.800 L737.800 394.200 H758.800 L764.800 404.800 L758 420.500 H737.800 Z" fill="#18181a"/>
  <path d="M735 404.800 L739.600 396.400 H757 L761.600 404.800 L756.400 418.200 H739.400 Z" fill="#232326"/>
  <circle cx="748.3" cy="407.600" r="4.400" fill="#55555a"/><circle cx="748.3" cy="407.600" r="2" fill="#2a2a2d"/>
  <rect x="744.500" y="398" width="7.6" height="2.6" rx="0.6" fill="#0d0d0f"/><rect x="747.400" y="398.600" width="2" height="1.300" fill="#c03030"/>
  <path d="M723.500 415 L727 418.200 L723.500 421.500 M726.500 415 L730 418.200 L726.500 421.500" stroke="#1a1a1c" stroke-width="1.3" fill="none"/>
  <path d="M773 415 L769.500 418.200 L773 421.500 M770 415 L766.500 418.200 L770 421.500" stroke="#1a1a1c" stroke-width="1.3" fill="none"/>
  <path d="M733 427.500 H763.500 L775.200 440 V467 L763.500 479.500 H733 L721.400 467 V440 Z" fill="#1f1f22"/>
  <g clip-path="url(#cpLed)">
    <circle cx="748.3" cy="453.500" r="24.600" fill="url(#gLed)"/>
    <circle cx="751" cy="437" r="9" fill="url(#gSpotY)"/>
    <circle cx="759" cy="436.500" r="7" fill="url(#gSpotC)"/>
    <circle cx="765" cy="447" r="9" fill="url(#gSpotO)"/>
    <circle cx="764" cy="462" r="8" fill="url(#gSpotY)" opacity="0.8"/>
    <circle cx="751" cy="471" r="9.500" fill="url(#gSpotB)"/>
    <circle cx="738" cy="466" r="8" fill="url(#gSpotB)" opacity="0.55"/>
    <circle cx="735" cy="443" r="9" fill="url(#gSpotO)" opacity="0.5"/>
    <circle cx="748.3" cy="453.500" r="24.600" fill="url(#pMesh)"/>
  </g>
  <circle cx="748.3" cy="453.500" r="24.600" fill="none" stroke="#2a2a2d" stroke-width="1.600"/>
  <rect x="723" y="452.300" width="50.600" height="2.600" fill="#28282b"/>
  <path d="M742.500 453.600 L745 449.600 H751.600 L754.100 453.600 L751.600 457.600 H745 Z" fill="#161618"/>
  <rect x="745.800" y="452.800" width="5" height="1.400" fill="#8a8a90"/>

  <!-- portable PA (block rocker) -->
  <ellipse cx="676" cy="496.500" rx="30" ry="2.600" fill="#dcdcdc" filter="url(#soft1)"/>
  <path d="M644.600 410 Q644.600 407 647 406.400 L662 402.600 L664 400.400 H697.500 L699.500 401.600 L713.800 398 L723.600 422 V471 L717.400 477.400 L678 495.200 H661.300 L644.600 481 Z" fill="#2a2a2d"/>
  <path d="M677.500 432.500 L723.600 428 V471 L717.400 477.400 L678 495.200 H677.500 Z" fill="#39393c"/>
  <path d="M660.600 436.300 L677.500 432.500 V495.200 H661.300 L660.600 494 Z" fill="#333336"/>
  <path d="M644.600 410 L660.600 436.300 V494.400 L644.600 481 Z" fill="#2b2b2e"/>
  <path d="M647 406.400 L662 402.600 L713.800 398 L723.600 422 V428 L677.500 432.500 L660.600 436.300 L644.600 410 Q644.600 407 647 406.400 Z" fill="#303033"/>
  <path d="M663.500 411 L712 406.500 L719.500 425.500 L670 431 Z" fill="#19191c"/>
  <path d="M664 400.400 H697.500 L699.500 402.600 H662.600 Z" fill="#1d1d20"/>
  <path d="M646.300 416.300 L653.500 414.600 Q655.600 416 655.800 419 L656 427 L646.300 425.500 Z" fill="#0f0f11"/>
  <path d="M648.500 418.500 L653.500 417.500 V424.500 L648.500 423.800 Z" fill="#444447"/>
  <path d="M644.600 428.500 L660.600 437.500" stroke="#48484c" stroke-width="1.600"/>
  <path d="M660.600 436.300 L677.500 432.500 L723 428" stroke="#454549" stroke-width="1" fill="none"/>
  <rect x="687.500" y="413.600" width="12" height="4.800" fill="#2a64b4" transform="rotate(-5 693 416)"/>
  <circle cx="678.500" cy="422.300" r="3.300" fill="#0a0a0c"/><circle cx="678.500" cy="422.300" r="1.700" fill="#55555a"/>
  <circle cx="714" cy="417.500" r="3.300" fill="#0a0a0c"/><circle cx="714" cy="417.500" r="1.700" fill="#55555a"/>
  <circle cx="678.500" cy="426.600" r="1" fill="#d04040"/><circle cx="715.500" cy="422" r="1" fill="#d04040"/>
  <path d="M684 424.800 L708 422.400" stroke="#77777c" stroke-width="1" stroke-dasharray="1.400 1.800"/>
  <path d="M684 421.600 L700 420" stroke="#5a5a60" stroke-width="0.900" stroke-dasharray="1 2"/>
  <rect x="694.600" y="427.400" width="10.600" height="3.200" fill="#ececec" transform="rotate(-5 700 429)"/>
  <circle cx="668" cy="448" r="1" fill="#48484c"/><circle cx="668" cy="458" r="1" fill="#48484c"/>

  <!-- microphone -->
  <path d="M713.500 484 L731.500 476.400 L733.500 480.800 L716 490.500 Z" fill="#2a2a2e"/>
  <path d="M714.500 485.200 L731.800 477.800" stroke="#55555b" stroke-width="0.900"/>
  <circle cx="711.800" cy="488.200" r="6.200" fill="#1e1e21"/>
  <circle cx="711.200" cy="487.600" r="4.600" fill="#3c3c42"/>
  <circle cx="710.400" cy="486.800" r="2.400" fill="#4c4c52"/>
</g>

<!-- ================= HOME SPEAKERS ================= -->
<defs>
  <linearGradient id="gGrille" x1="0" y1="0" x2="0" y2="1"><stop offset="0" stop-color="#7c7c7e"/><stop offset="0.47" stop-color="#636365"/><stop offset="0.49" stop-color="#707073"/><stop offset="1" stop-color="#a0a0a2"/></linearGradient>
  <linearGradient id="gBaffle" x1="0" y1="0" x2="0.3" y2="1"><stop offset="0" stop-color="#b9b9bd"/><stop offset="1" stop-color="#87878b"/></linearGradient>
  <linearGradient id="gWood" x1="0" y1="0" x2="1" y2="0"><stop offset="0" stop-color="#a4613a"/><stop offset="1" stop-color="#84492b"/></linearGradient>
  <linearGradient id="gBar" x1="0" y1="0" x2="0" y2="1"><stop offset="0" stop-color="#2c2c2f"/><stop offset="0.25" stop-color="#161618"/><stop offset="1" stop-color="#0e0e10"/></linearGradient>
  <radialGradient id="gCone" cx="0.45" cy="0.45" r="0.55"><stop offset="0" stop-color="#3a3a3e"/><stop offset="0.35" stop-color="#222225"/><stop offset="0.8" stop-color="#2c2c30"/><stop offset="1" stop-color="#121214"/></radialGradient>
</defs>
<g id="homeSpeakers" filter="url(#soft)">
  <!-- subwoofer -->
  <rect x="473.400" y="520.600" width="45.600" height="52" rx="0.800" fill="#2b2b2e"/>
  <rect x="473.300" y="520.800" width="45.600" height="1.400" fill="#3a3a3e"/>
  <circle cx="496.500" cy="545" r="11" fill="#141416"/><circle cx="496.500" cy="545" r="9.400" fill="#26262a"/><circle cx="496.500" cy="545" r="7.800" fill="#070708"/>
  <path d="M489.500 549 A8.300 8.300 0 0 0 503 549.500" stroke="#4a4a50" stroke-width="1" fill="none"/>
  <!-- satellites -->
  
  <g>
    <path d="M430.2 544.8 H437.0 Q439.0 544.8 439.3 547 L442.6 584 Q442.8 587.5 439.5 588 L421.0 589.600 Q417.6 589.800 418.3 586.500 L427.5 547.200 Q428.0 544.800 430.2 544.800 Z" fill="#18181a"/>
    <path d="M437.5 546 L441.3 585 L438.0 587 L435.0 548 Z" fill="#2a2a2d"/>
    <circle cx="432.6" cy="551.700" r="3.300" fill="#0c0c0e"/><circle cx="432.6" cy="551.700" r="1.700" fill="#4a4a50"/>
    <circle cx="429.0" cy="568.200" r="6.300" fill="#0e0e10"/><circle cx="429.0" cy="568.200" r="4.800" fill="#77777c"/><circle cx="429.6" cy="568.800" r="2.800" fill="#c8c8cc"/><circle cx="428.3" cy="567.600" r="1.400" fill="#55555a"/>
    <circle cx="434.6" cy="558.400" r="0.800" fill="#38383c"/>
    <rect x="421.5" y="580.600" width="4" height="1" fill="#6c6c72"/>
  </g>
  
  <g>
    <path d="M454.2 544.8 H461.0 Q463.0 544.8 463.3 547 L466.6 584 Q466.8 587.5 463.5 588 L445.0 589.600 Q441.6 589.800 442.3 586.500 L451.5 547.200 Q452.0 544.800 454.2 544.800 Z" fill="#18181a"/>
    <path d="M461.5 546 L465.3 585 L462.0 587 L459.0 548 Z" fill="#2a2a2d"/>
    <circle cx="456.6" cy="551.700" r="3.300" fill="#0c0c0e"/><circle cx="456.6" cy="551.700" r="1.700" fill="#4a4a50"/>
    <circle cx="453.0" cy="568.200" r="6.300" fill="#0e0e10"/><circle cx="453.0" cy="568.200" r="4.800" fill="#77777c"/><circle cx="453.6" cy="568.800" r="2.800" fill="#c8c8cc"/><circle cx="452.3" cy="567.600" r="1.400" fill="#55555a"/>
    <circle cx="458.6" cy="558.400" r="0.800" fill="#38383c"/>
    <rect x="445.5" y="580.600" width="4" height="1" fill="#6c6c72"/>
  </g>
  <!-- centre speaker -->
  <path d="M481 567.600 H514.500 Q517 567.600 517.600 570 L522.300 590 Q522.900 593.300 519.500 593.300 H474 Q470.600 593.300 471.200 590 L477.900 570 Q478.500 567.600 481 567.600 Z" fill="#2c2c2f"/>
  <path d="M481 571.400 H514.800 L518.800 587.800 H476.500 Z" fill="#232326"/>
  <path d="M479.500 568.600 H516" stroke="#3a3a3e" stroke-width="1"/>
  <circle cx="486.600" cy="579.700" r="6.600" fill="#0c0c0e"/><circle cx="486.600" cy="579.700" r="4.500" fill="#8a8a90"/><circle cx="487" cy="580" r="2.800" fill="#d0d0d4"/><circle cx="486.200" cy="579.400" r="1.300" fill="#55555a"/>
  <circle cx="506.200" cy="579.700" r="6.600" fill="#0c0c0e"/><circle cx="506.200" cy="579.700" r="4.500" fill="#8a8a90"/><circle cx="506.600" cy="580" r="2.800" fill="#d0d0d4"/><circle cx="505.800" cy="579.400" r="1.300" fill="#55555a"/>
  <circle cx="482" cy="570" r="0.700" fill="#55555a"/><circle cx="513.600" cy="570" r="0.700" fill="#55555a"/>
  <rect x="492" y="590" width="9" height="0.900" fill="#55555a"/>
  <!-- grey bookshelf speaker -->
  <path d="M556.800 525 L559.400 526.300 V589 L556.800 588.800 Z" fill="#9a5a34"/>
  <path d="M525 528.300 L556.800 525 V588.800 H525 Z" fill="url(#gGrille)"/>
  <path d="M525 528.300 L556.800 525" stroke="#b4b4b8" stroke-width="0.900"/>
  <path d="M529 555.800 H554" stroke="#a8a8ac" stroke-width="0.700"/>
  <rect x="534.500" y="583.500" width="5" height="1.300" fill="#d8d8dc"/>
  <!-- wood bookshelf speaker -->
  <ellipse cx="600" cy="594" rx="22" ry="2.400" fill="#d0d0d0" filter="url(#soft1)"/>
  <path d="M596.300 521.300 L616.800 528.800 V589.500 L596.300 591.800 Z" fill="url(#gWood)"/>
  <path d="M600.600 527.400 L606.800 529.600 V561.500 L600.600 562 Z" fill="#2a211c"/>
  <path d="M602 530 L605.600 531.300 V559 L602 559.500 Z" fill="#4a3a30"/>
  <path d="M560.500 524.300 L596.300 521.300 V591.800 L560.500 594 Z" fill="#9c5c38"/>
  <path d="M562.300 526 L594.800 523.300 V590 L562.300 592.200 Z" fill="url(#gBaffle)"/>
  <circle cx="582.700" cy="537.700" r="9.800" fill="#1a1a1c"/><circle cx="582.700" cy="537.700" r="8" fill="url(#gCone)"/><circle cx="582.700" cy="537.700" r="3.200" fill="#38383c"/><circle cx="582.700" cy="537.700" r="1.300" fill="#0c0c0e"/>
  <circle cx="567.800" cy="545.200" r="4.600" fill="#0a0a0c"/>
  <circle cx="578.300" cy="567.800" r="15.200" fill="#161618"/><circle cx="578.300" cy="567.800" r="13.200" fill="url(#gCone)"/><circle cx="578.300" cy="567.800" r="13.200" fill="none" stroke="#3e3e42" stroke-width="1.200"/><circle cx="578.300" cy="567.800" r="8.600" fill="none" stroke="#38383c" stroke-width="0.800"/><circle cx="578.300" cy="567.800" r="4.400" fill="#34343a"/>
  <circle cx="565" cy="529.600" r="1" fill="#1a1a1c"/><circle cx="592" cy="527.400" r="1" fill="#1a1a1c"/><circle cx="565" cy="584.500" r="1" fill="#1a1a1c"/><circle cx="592" cy="583" r="1" fill="#1a1a1c"/>
  <rect x="573.500" y="587.200" width="6" height="1.500" fill="#d8d8dc"/>
  <!-- sound bar -->
  <ellipse cx="516" cy="616.600" rx="70" ry="1.800" fill="#d4d4d4" filter="url(#soft1)"/>
  <rect x="447.200" y="597.400" width="136.500" height="19" rx="1.200" fill="url(#gBar)"/>
  <rect x="447.200" y="597.400" width="136.500" height="1.200" fill="#4a4a50"/>
  <rect x="513.500" y="608.200" width="5.200" height="3" fill="#b8b8bc"/>
</g>

<!-- ================= LABEL BOXES ================= -->
<g id="labels" fill="#cde1ec">
  <rect x="19.5" y="430.5" width="171.5" height="39.5" rx="7"/>
  <rect x="45.5" y="576.8" width="274" height="29.2" rx="8"/>
  <rect x="476.5" y="304.5" width="129" height="64.5" rx="6"/>
  <rect x="632" y="535.5" width="141.8" height="63.5" rx="7"/>
</g>
<g id="labeltext" fill="#080808">
  <text stroke="#cde1ec" stroke-width="0.22" x="27" y="444.2" font-size="15.8" textLength="151" lengthAdjust="spacingAndGlyphs">Turn on Bluetooth and</text>
  <text stroke="#cde1ec" stroke-width="0.22" x="20.8" y="461" font-size="15.8" textLength="167.4" lengthAdjust="spacingAndGlyphs">search "X168" to connect</text>
  <text stroke="#cde1ec" stroke-width="0.22" x="56.4" y="596" font-size="20.2" textLength="251" lengthAdjust="spacingAndGlyphs">Smartphone / Pad / Laptop</text>
  <text stroke="#cde1ec" stroke-width="0.22" x="480.6" y="323.8" font-size="16.2" textLength="118.5" lengthAdjust="spacingAndGlyphs">Karaoke Speaker</text>
  <text stroke="#cde1ec" stroke-width="0.22" x="480.6" y="341" font-size="16.2" textLength="73" lengthAdjust="spacingAndGlyphs">PA System</text>
  <text stroke="#cde1ec" stroke-width="0.22" x="480.6" y="358.4" font-size="16.2" textLength="120.5" lengthAdjust="spacingAndGlyphs">Outdoor Speaker</text>
  <text stroke="#cde1ec" stroke-width="0.22" x="638.6" y="554.5" font-size="16.2" textLength="72" lengthAdjust="spacingAndGlyphs">Sound Bar</text>
  <text stroke="#cde1ec" stroke-width="0.22" x="638.6" y="571.2" font-size="16.2" textLength="131.4" lengthAdjust="spacingAndGlyphs">Bookshelf Speaker</text>
  <text stroke="#cde1ec" stroke-width="0.22" x="638.6" y="588.6" font-size="16.2" textLength="101.5" lengthAdjust="spacingAndGlyphs">Home Theater</text>
  <text stroke="#ffffff" stroke-width="0.22" x="219.5" y="344" font-size="16" textLength="136" lengthAdjust="spacingAndGlyphs">Bluetooth Connect</text>
  <text stroke="#ffffff" stroke-width="0.22" x="222.5" y="374" font-size="16" textLength="158.5" lengthAdjust="spacingAndGlyphs">1/8"(3.5mm) Jack R+L</text>
  <text stroke="#ffffff" stroke-width="0.22" x="475.7" y="416.1" font-size="14.7" textLength="112" lengthAdjust="spacingAndGlyphs">1/4"(6.35mm) out</text>
  <text stroke="#ffffff" stroke-width="0.22" x="405.6" y="510.6" font-size="12.4" textLength="89.3" lengthAdjust="spacingAndGlyphs">1/8"(3.5mm) out</text>
</g>

<!-- ================= BLUETOOTH ICON ================= -->
<g id="bt">
  <path d="M76.500 372 C76.500 345 88 332.700 109.300 332.700 C130.600 332.700 142.200 345 142.200 372 V389 C142.200 416 130.600 428.400 109.300 428.400 C88 428.400 76.500 416 76.500 389 Z" fill="#1b4ca6"/>
  <path d="M92.600 362 L124 393.600 L108.600 412.400 V345.400 L124 363.400 L92.600 393.200" fill="none" stroke="#eef2fa" stroke-width="5" stroke-linejoin="miter" stroke-miterlimit="10"/>
</g>

</svg>
</body>
</html>
